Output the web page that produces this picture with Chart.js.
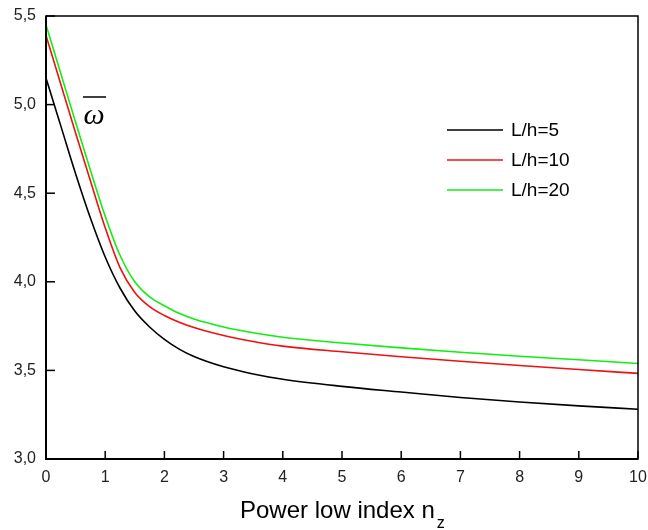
<!DOCTYPE html>
<html>
<head>
<meta charset="utf-8">
<script src="https://cdn.jsdelivr.net/npm/chart.js@4"></script>
<style>
  html, body { margin: 0; padding: 0; background: #fff; }
  #wrap { width: 648px; height: 530px; }
</style>
</head>
<body>
<div id="wrap"><canvas id="myChart" width="648" height="530"></canvas></div>
<script>
// data
const nz = [0, 0.25, 0.5, 0.75, 1, 1.25, 1.5, 1.75, 2, 2.25, 2.5, 3, 3.5, 4, 5, 6, 7, 8, 9, 10];
const lh5 = [5.15, 4.88, 4.61, 4.36, 4.14, 3.965, 3.835, 3.745, 3.675, 3.62, 3.578, 3.52, 3.48, 3.45, 3.41, 3.378, 3.347, 3.322, 3.30, 3.281];
const lh10 = [5.39, 5.115, 4.84, 4.57, 4.305, 4.08, 3.94, 3.86, 3.81, 3.772, 3.742, 3.697, 3.663, 3.637, 3.605, 3.577, 3.552, 3.528, 3.505, 3.483];
const lh20 = [5.45, 5.175, 4.90, 4.63, 4.37, 4.15, 4.00, 3.915, 3.865, 3.822, 3.79, 3.745, 3.712, 3.687, 3.655, 3.627, 3.602, 3.58, 3.56, 3.539];
const seriesNames = ['L/h=5', 'L/h=10', 'L/h=20'];
const xTicks = [0, 1, 2, 3, 4, 5, 6, 7, 8, 9, 10];
const yTicks = [3.0, 3.5, 4.0, 4.5, 5.0, 5.5];

const font = '"Liberation Sans", Arial, sans-serif';

function pts(ys) {
  return nz.map((x, i) => ({x: x, y: ys[i]}));
}

// box, inward ticks, legend, omega label, axis title
const decor = {
  id: 'decor',
  afterDraw(chart) {
    const ctx = chart.ctx;
    const a = chart.chartArea;
    const xs = chart.scales.x;
    const ys = chart.scales.y;
    ctx.save();
    ctx.strokeStyle = '#000';

    // ticks pointing into the plot
    ctx.lineWidth = 1.5;
    xTicks.forEach(v => {
      const px = xs.getPixelForValue(v);
      ctx.beginPath();
      ctx.moveTo(px, a.bottom);
      ctx.lineTo(px, a.bottom - 8);
      ctx.stroke();
    });
    yTicks.forEach(v => {
      const py = ys.getPixelForValue(v);
      ctx.beginPath();
      ctx.moveTo(a.left, py);
      ctx.lineTo(a.left + 9, py);
      ctx.stroke();
    });

    // frame
    ctx.lineWidth = 1.5;
    ctx.strokeRect(a.left, a.top, a.right - a.left, a.bottom - a.top);
    ctx.lineWidth = 2;
    ctx.beginPath();
    ctx.moveTo(a.left, a.top);
    ctx.lineTo(a.left, a.bottom);
    ctx.lineTo(a.right, a.bottom);
    ctx.stroke();

    // legend
    ctx.font = '19px ' + font;
    ctx.textBaseline = 'middle';
    ctx.textAlign = 'left';
    chart.data.datasets.forEach((ds, i) => {
      const y = 130 + i * 30;
      ctx.strokeStyle = ds.borderColor;
      ctx.lineWidth = 1.6;
      ctx.beginPath();
      ctx.moveTo(447, y);
      ctx.lineTo(503, y);
      ctx.stroke();
      ctx.fillStyle = '#000';
      ctx.fillText(ds.label, 511, y + 1);
    });

    // omega bar label
    ctx.fillStyle = '#000';
    ctx.strokeStyle = '#000';
    ctx.lineWidth = 1.5;
    ctx.beginPath();
    ctx.moveTo(83, 97);
    ctx.lineTo(106, 97);
    ctx.stroke();
    ctx.font = 'italic 30px "Liberation Serif", "Times New Roman", serif';
    ctx.textAlign = 'center';
    ctx.textBaseline = 'alphabetic';
    ctx.fillText('\u03C9', 94, 124);

    // x axis title with subscript
    ctx.textAlign = 'left';
    ctx.font = '24px ' + font;
    const main = 'Power low index n';
    ctx.fillText(main, 240, 518);
    const w = ctx.measureText(main).width;
    ctx.font = '16px ' + font;
    ctx.fillText('z', 240 + w + 2, 528);

    ctx.restore();
  }
};

const myChart = document.getElementById('myChart');

let lineChart = new Chart(myChart, {
  type: 'line',
  data: {
    datasets: [
      {label: seriesNames[0], data: pts(lh5), borderColor: '#000000'},
      {label: seriesNames[1], data: pts(lh10), borderColor: '#ee1111'},
      {label: seriesNames[2], data: pts(lh20), borderColor: '#11ee11'}
    ]
  },
  options: {
    responsive: false,
    animation: false,
    layout: {padding: {top: 16, right: 10, left: 0, bottom: 0}},
    datasets: {
      line: {borderWidth: 1.6, pointRadius: 0, fill: false, cubicInterpolationMode: 'monotone'}
    },
    plugins: {legend: {display: false}, tooltip: {enabled: false}},
    scales: {
      x: {
        type: 'linear',
        min: 0,
        max: 10,
        afterFit(scale) {
          scale.height = 71;
          scale.paddingLeft = 0;
          scale.paddingRight = 0;
        },
        afterBuildTicks(scale) { scale.ticks = xTicks.map(v => ({value: v})); },
        grid: {display: false, drawTicks: false},
        border: {display: false},
        ticks: {
          padding: 9,
          color: '#222',
          font: {family: font, size: 16},
          callback: v => String(v)
        }
      },
      y: {
        min: 3,
        max: 5.5,
        afterFit(scale) {
          scale.width = 46;
          scale.paddingTop = 0;
          scale.paddingBottom = 0;
        },
        afterBuildTicks(scale) { scale.ticks = yTicks.map(v => ({value: v})); },
        grid: {display: false, drawTicks: false},
        border: {display: false},
        ticks: {
          padding: 10,
          color: '#222',
          font: {family: font, size: 16},
          callback: v => v.toFixed(1).replace('.', ',')
        }
      }
    }
  },
  plugins: [decor]
});
</script>
</body>
</html>
